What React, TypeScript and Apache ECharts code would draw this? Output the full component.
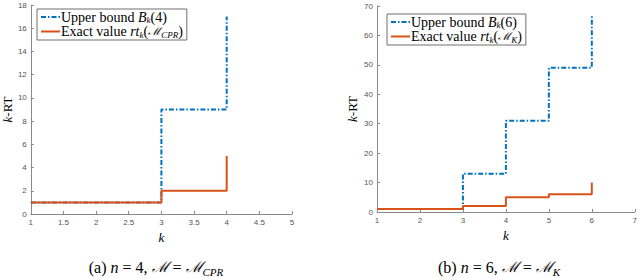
import React, { useEffect, useRef } from "react";
import * as echarts from "echarts";

// Panel (a): n = 4
const kA = [1, 2, 3, 4];
const boundA = [1, 1, 9, 17];
const exactA = [1, 1, 2, 5];
// Panel (b): n = 6
const kB = [1, 2, 3, 4, 5, 6];
const boundB = [1, 1, 13, 31, 49, 67];
const exactB = [1, 1, 2, 5, 6, 10];

const nameBoundA = "Upper bound B_k(4)";
const nameExactA = "Exact value rt_k(M_CPR)";
const nameBoundB = "Upper bound B_k(6)";
const nameExactB = "Exact value rt_k(M_K)";

const BLUE = "#0072BD";
const RED = "#D95319";
const AXIS = "#8a8a8a";
const TICK_TXT = "#555555";
const SERIF = "Liberation Serif";
const SANS = "Liberation Sans";
const DASHDOT = [5, 2, 1.5, 2];

const legendRich = {
  r: { fontFamily: SERIF, fontSize: 14, color: "#000", lineHeight: 15 },
  i: { fontFamily: SERIF, fontSize: 14, fontStyle: "italic", color: "#000", lineHeight: 15 },
  m: { fontFamily: "DejaVu Serif", fontSize: 11, fontStyle: "italic", color: "#000", lineHeight: 15 },
  s: { fontFamily: SERIF, fontSize: 9, fontStyle: "italic", color: "#000", lineHeight: 9, padding: [5, 0, 0, 0], verticalAlign: "bottom" },
};

const legendText: Record<string, string> = {
  [nameBoundA]: "{r|Upper bound }{i|B}{s|k}{r|(4)}",
  [nameExactA]: "{r|Exact value }{i|rt}{s|k}{r|(}{m|ℳ}{s|CPR}{r|)}",
  [nameBoundB]: "{r|Upper bound }{i|B}{s|k}{r|(6)}",
  [nameExactB]: "{r|Exact value }{i|rt}{s|k}{r|(}{m|ℳ}{s|K}{r|)}",
};

const capRich = {
  r: { fontFamily: SERIF, fontSize: 16, color: "#000", lineHeight: 20 },
  i: { fontFamily: SERIF, fontSize: 16, fontStyle: "italic", color: "#000", lineHeight: 20 },
  m: { fontFamily: "DejaVu Serif", fontSize: 15, fontStyle: "italic", color: "#000", lineHeight: 20 },
  s: { fontFamily: SERIF, fontSize: 11, fontStyle: "italic", color: "#000", lineHeight: 11, padding: [4, 0, 0, 0], verticalAlign: "bottom" },
};

function axisX(gridIndex: number, max: number, interval: number) {
  return {
    type: "value",
    gridIndex,
    min: 1,
    max,
    interval,
    name: "{i|k}",
    nameLocation: "middle",
    nameGap: 17,
    nameTextStyle: {
      fontFamily: SERIF,
      rich: { i: { fontFamily: SERIF, fontSize: 13, fontStyle: "italic", color: "#000" } },
    },
    axisLine: { show: true, lineStyle: { color: AXIS, width: 1 } },
    axisTick: { show: true, inside: true, length: 3, lineStyle: { color: AXIS } },
    axisLabel: { color: TICK_TXT, fontSize: 8, fontFamily: SANS, margin: 4 },
    splitLine: { show: false },
  };
}

function axisY(gridIndex: number, max: number, interval: number, gap: number) {
  return {
    type: "value",
    gridIndex,
    min: 0,
    max,
    interval,
    name: "{i|k}{r|-RT}",
    nameLocation: "middle",
    nameRotate: 90,
    nameGap: gap,
    nameTextStyle: {
      fontFamily: SERIF,
      rich: {
        i: { fontFamily: SERIF, fontSize: 13, fontStyle: "italic", color: "#000" },
        r: { fontFamily: SERIF, fontSize: 13, color: "#000" },
      },
    },
    axisLine: { show: true, lineStyle: { color: AXIS, width: 1 } },
    axisTick: { show: true, inside: true, length: 3, lineStyle: { color: AXIS } },
    axisLabel: { color: TICK_TXT, fontSize: 8, fontFamily: SANS, margin: 4 },
    splitLine: { show: false },
  };
}

function legendAt(left: number, top: number, names: string[]) {
  return {
    show: true,
    orient: "vertical",
    left,
    top,
    data: names,
    itemWidth: 19,
    itemHeight: 10,
    itemGap: 0,
    padding: [1, 4, 1, 3],
    backgroundColor: "#fff",
    borderColor: "#6e6e6e",
    borderWidth: 1,
    borderRadius: 0,
    selectedMode: false,
    itemStyle: { opacity: 0 },
    formatter: (n: string) => legendText[n] || n,
    textStyle: { fontFamily: SERIF, fontSize: 14, padding: [0, 0, 0, -4], rich: legendRich },
  };
}

function stepSeries(name: string, xi: number, xs: number[], ys: number[], color: string, dash: any) {
  return {
    name,
    type: "line",
    xAxisIndex: xi,
    yAxisIndex: xi,
    step: "end",
    symbol: "none",
    showSymbol: false,
    data: xs.map((k, i) => [k, ys[i]]),
    lineStyle: { color, width: 2, type: dash },
    itemStyle: { color },
    z: color === RED ? 3 : 2,
  };
}

export default function App() {
  const ref = useRef<HTMLDivElement>(null);
  useEffect(() => {
    if (!ref.current) return;
    const chart = echarts.init(ref.current, null, { renderer: "svg" });
    chart.setOption({
      animation: false,
      backgroundColor: "#fff",
      textStyle: { fontFamily: SERIF },
      grid: [
        { left: 30, top: 5, width: 262, height: 209 },
        { left: 377, top: 6, width: 261, height: 206 },
      ],
      xAxis: [axisX(0, 5, 0.5), axisX(1, 7, 1)],
      yAxis: [axisY(0, 18, 2, 14), axisY(1, 70, 10, 18)],
      legend: [legendAt(37, 9, [nameBoundA, nameExactA]), legendAt(387, 14, [nameBoundB, nameExactB])],
      series: [
        stepSeries(nameBoundA, 0, kA, boundA, BLUE, DASHDOT),
        stepSeries(nameExactA, 0, kA, exactA, RED, "solid"),
        stepSeries(nameBoundB, 1, kB, boundB, BLUE, DASHDOT),
        stepSeries(nameExactB, 1, kB, exactB, RED, "solid"),
      ],
      graphic: [
        {
          type: "text",
          x: 156,
          y: 267,
          style: {
            text: "{r|(a) }{i|n}{r| = 4, }{m|ℳ}{r| = }{m|ℳ}{s|CPR}",
            rich: capRich,
            fontFamily: SERIF,
            align: "center",
            verticalAlign: "middle",
          },
        },
        {
          type: "text",
          x: 499,
          y: 267,
          style: {
            text: "{r|(b) }{i|n}{r| = 6, }{m|ℳ}{r| = }{m|ℳ}{s|K}",
            rich: capRich,
            fontFamily: SERIF,
            align: "center",
            verticalAlign: "middle",
          },
        },
      ],
    });
    return () => chart.dispose();
  }, []);
  return (
    <div
      ref={ref}
      style={{ position: "absolute", left: 0, top: 0, width: 640, height: 278 }}
    />
  );
}
